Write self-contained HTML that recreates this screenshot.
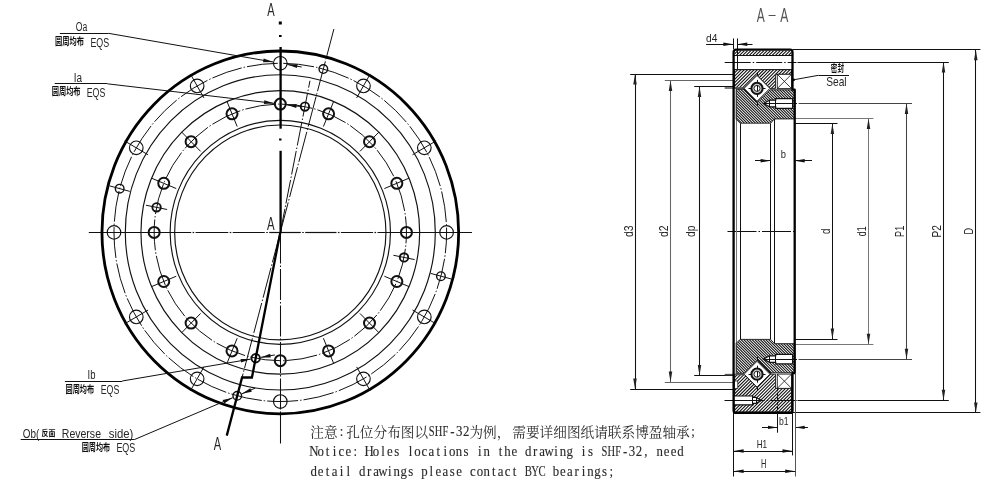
<!DOCTYPE html>
<html><head><meta charset="utf-8"><title>SHF bearing drawing</title><style>html,body{margin:0;padding:0;background:#fff}svg{display:block;will-change:transform;opacity:.999}</style></head><body>
<svg width="1005" height="485" viewBox="0 0 1005 485">
<rect width="1005" height="485" fill="#fff"/>
<g id="front">
<line x1="88.80" y1="232.50" x2="191.20" y2="232.50" stroke="#111" stroke-width="1.2"/>
<line x1="192.60" y1="232.50" x2="194.20" y2="232.50" stroke="#111" stroke-width="1.2"/>
<line x1="195.60" y1="232.50" x2="228.30" y2="232.50" stroke="#111" stroke-width="1.2"/>
<line x1="229.70" y1="232.50" x2="231.30" y2="232.50" stroke="#111" stroke-width="1.2"/>
<line x1="232.70" y1="232.50" x2="264.80" y2="232.50" stroke="#111" stroke-width="1.2"/>
<line x1="266.20" y1="232.50" x2="267.80" y2="232.50" stroke="#111" stroke-width="1.2"/>
<line x1="269.20" y1="232.50" x2="300.80" y2="232.50" stroke="#111" stroke-width="1.2"/>
<line x1="302.20" y1="232.50" x2="303.80" y2="232.50" stroke="#111" stroke-width="1.2"/>
<line x1="305.20" y1="232.50" x2="336.50" y2="232.50" stroke="#111" stroke-width="1.2"/>
<line x1="337.90" y1="232.50" x2="339.50" y2="232.50" stroke="#111" stroke-width="1.2"/>
<line x1="340.90" y1="232.50" x2="373.10" y2="232.50" stroke="#111" stroke-width="1.2"/>
<line x1="374.50" y1="232.50" x2="376.10" y2="232.50" stroke="#111" stroke-width="1.2"/>
<line x1="377.50" y1="232.50" x2="472.00" y2="232.50" stroke="#111" stroke-width="1.2"/>
<line x1="280.50" y1="232.40" x2="280.50" y2="443.50" stroke="#111" stroke-width="1.05" stroke-dasharray="31 2 1.5 2" stroke-dashoffset="0"/>
<ellipse cx="280.30" cy="232.40" rx="155.00" ry="157.63" fill="none" stroke="#111" stroke-width="1.15"/>
<ellipse cx="280.30" cy="232.40" rx="139.35" ry="141.72" fill="none" stroke="#111" stroke-width="1.15"/>
<ellipse cx="280.30" cy="232.40" rx="110.15" ry="112.02" fill="none" stroke="#111" stroke-width="1.15"/>
<ellipse cx="280.30" cy="232.40" rx="105.65" ry="107.45" fill="none" stroke="#111" stroke-width="1.15"/>
<ellipse cx="280.30" cy="232.40" rx="166.30" ry="169.13" fill="none" stroke="#111" stroke-width="1.0" stroke-dasharray="31 2 1.5 2" stroke-dashoffset="10"/>
<ellipse cx="280.30" cy="232.40" rx="126.15" ry="128.29" fill="none" stroke="#111" stroke-width="1.0" stroke-dasharray="31 2 1.5 2" stroke-dashoffset="20"/>
<ellipse cx="280.30" cy="232.40" rx="178.35" ry="181.38" fill="none" stroke="#000" stroke-width="2.8"/>
<line x1="280.30" y1="232.40" x2="333.88" y2="29.05" stroke="#111" stroke-width="1.0" stroke-dasharray="31 2 1.5 2"/>
<line x1="280.30" y1="232.40" x2="309.95" y2="80.79" stroke="#111" stroke-width="1.0" stroke-dasharray="24 2 1.5 2"/>
<line x1="280.30" y1="232.40" x2="241.99" y2="377.79" stroke="#111" stroke-width="1.0" stroke-dasharray="31 2 1.5 2"/>
<ellipse cx="280.30" cy="63.27" rx="6.80" ry="6.80" fill="none" stroke="#111" stroke-width="1.15"/>
<line x1="356.65" y1="97.91" x2="370.25" y2="73.95" stroke="#111" stroke-width="1.0"/>
<ellipse cx="363.45" cy="85.93" rx="6.80" ry="6.80" fill="none" stroke="#111" stroke-width="1.15"/>
<line x1="412.54" y1="154.75" x2="436.10" y2="140.92" stroke="#111" stroke-width="1.0"/>
<ellipse cx="424.32" cy="147.84" rx="6.80" ry="6.80" fill="none" stroke="#111" stroke-width="1.15"/>
<ellipse cx="446.60" cy="232.40" rx="6.80" ry="6.80" fill="none" stroke="#111" stroke-width="1.15"/>
<line x1="412.54" y1="310.05" x2="436.10" y2="323.88" stroke="#111" stroke-width="1.0"/>
<ellipse cx="424.32" cy="316.96" rx="6.80" ry="6.80" fill="none" stroke="#111" stroke-width="1.15"/>
<line x1="356.65" y1="366.89" x2="370.25" y2="390.85" stroke="#111" stroke-width="1.0"/>
<ellipse cx="363.45" cy="378.87" rx="6.80" ry="6.80" fill="none" stroke="#111" stroke-width="1.15"/>
<ellipse cx="280.30" cy="401.53" rx="6.80" ry="6.80" fill="none" stroke="#111" stroke-width="1.15"/>
<line x1="203.95" y1="366.89" x2="190.35" y2="390.85" stroke="#111" stroke-width="1.0"/>
<ellipse cx="197.15" cy="378.87" rx="6.80" ry="6.80" fill="none" stroke="#111" stroke-width="1.15"/>
<line x1="148.06" y1="310.05" x2="124.50" y2="323.88" stroke="#111" stroke-width="1.0"/>
<ellipse cx="136.28" cy="316.96" rx="6.80" ry="6.80" fill="none" stroke="#111" stroke-width="1.15"/>
<ellipse cx="114.00" cy="232.40" rx="6.80" ry="6.80" fill="none" stroke="#111" stroke-width="1.15"/>
<line x1="148.06" y1="154.75" x2="124.50" y2="140.92" stroke="#111" stroke-width="1.0"/>
<ellipse cx="136.28" cy="147.84" rx="6.80" ry="6.80" fill="none" stroke="#111" stroke-width="1.15"/>
<line x1="203.95" y1="97.91" x2="190.35" y2="73.95" stroke="#111" stroke-width="1.0"/>
<ellipse cx="197.15" cy="85.93" rx="6.80" ry="6.80" fill="none" stroke="#111" stroke-width="1.15"/>
<ellipse cx="280.30" cy="104.11" rx="5.50" ry="5.50" fill="none" stroke="#111" stroke-width="2.0"/>
<line x1="323.41" y1="126.56" x2="333.74" y2="101.19" stroke="#111" stroke-width="1.0"/>
<ellipse cx="328.58" cy="113.87" rx="5.50" ry="5.50" fill="none" stroke="#111" stroke-width="2.0"/>
<line x1="359.96" y1="151.39" x2="379.05" y2="131.97" stroke="#111" stroke-width="1.0"/>
<ellipse cx="369.50" cy="141.68" rx="5.50" ry="5.50" fill="none" stroke="#111" stroke-width="2.0"/>
<line x1="384.38" y1="188.56" x2="409.32" y2="178.05" stroke="#111" stroke-width="1.0"/>
<ellipse cx="396.85" cy="183.30" rx="5.50" ry="5.50" fill="none" stroke="#111" stroke-width="2.0"/>
<ellipse cx="406.45" cy="232.40" rx="5.50" ry="5.50" fill="none" stroke="#111" stroke-width="2.0"/>
<line x1="384.38" y1="276.24" x2="409.32" y2="286.75" stroke="#111" stroke-width="1.0"/>
<ellipse cx="396.85" cy="281.50" rx="5.50" ry="5.50" fill="none" stroke="#111" stroke-width="2.0"/>
<line x1="359.96" y1="313.41" x2="379.05" y2="332.83" stroke="#111" stroke-width="1.0"/>
<ellipse cx="369.50" cy="323.12" rx="5.50" ry="5.50" fill="none" stroke="#111" stroke-width="2.0"/>
<line x1="323.41" y1="338.24" x2="333.74" y2="363.61" stroke="#111" stroke-width="1.0"/>
<ellipse cx="328.58" cy="350.93" rx="5.50" ry="5.50" fill="none" stroke="#111" stroke-width="2.0"/>
<ellipse cx="280.30" cy="360.69" rx="5.50" ry="5.50" fill="none" stroke="#111" stroke-width="2.0"/>
<line x1="237.19" y1="338.24" x2="226.86" y2="363.61" stroke="#111" stroke-width="1.0"/>
<ellipse cx="232.02" cy="350.93" rx="5.50" ry="5.50" fill="none" stroke="#111" stroke-width="2.0"/>
<line x1="200.64" y1="313.41" x2="181.55" y2="332.83" stroke="#111" stroke-width="1.0"/>
<ellipse cx="191.10" cy="323.12" rx="5.50" ry="5.50" fill="none" stroke="#111" stroke-width="2.0"/>
<line x1="176.22" y1="276.24" x2="151.28" y2="286.75" stroke="#111" stroke-width="1.0"/>
<ellipse cx="163.75" cy="281.50" rx="5.50" ry="5.50" fill="none" stroke="#111" stroke-width="2.0"/>
<ellipse cx="154.15" cy="232.40" rx="5.50" ry="5.50" fill="none" stroke="#111" stroke-width="2.0"/>
<line x1="176.22" y1="188.56" x2="151.28" y2="178.05" stroke="#111" stroke-width="1.0"/>
<ellipse cx="163.75" cy="183.30" rx="5.50" ry="5.50" fill="none" stroke="#111" stroke-width="2.0"/>
<line x1="200.64" y1="151.39" x2="181.55" y2="131.97" stroke="#111" stroke-width="1.0"/>
<ellipse cx="191.10" cy="141.68" rx="5.50" ry="5.50" fill="none" stroke="#111" stroke-width="2.0"/>
<line x1="237.19" y1="126.56" x2="226.86" y2="101.19" stroke="#111" stroke-width="1.0"/>
<ellipse cx="232.02" cy="113.87" rx="5.50" ry="5.50" fill="none" stroke="#111" stroke-width="2.0"/>
<ellipse cx="323.34" cy="69.04" rx="4.30" ry="4.30" fill="none" stroke="#111" stroke-width="1.4"/>
<ellipse cx="304.91" cy="106.57" rx="4.20" ry="4.20" fill="none" stroke="#111" stroke-width="1.9"/>
<line x1="430.79" y1="273.41" x2="451.08" y2="278.94" stroke="#111" stroke-width="1.0"/>
<ellipse cx="440.93" cy="276.17" rx="4.30" ry="4.30" fill="none" stroke="#111" stroke-width="1.4"/>
<line x1="393.43" y1="255.29" x2="414.62" y2="259.57" stroke="#111" stroke-width="1.0"/>
<ellipse cx="404.03" cy="257.43" rx="4.20" ry="4.20" fill="none" stroke="#111" stroke-width="1.9"/>
<ellipse cx="237.26" cy="395.76" rx="4.30" ry="4.30" fill="none" stroke="#111" stroke-width="1.4"/>
<ellipse cx="255.69" cy="358.23" rx="4.20" ry="4.20" fill="none" stroke="#111" stroke-width="1.9"/>
<line x1="129.81" y1="191.39" x2="109.52" y2="185.86" stroke="#111" stroke-width="1.0"/>
<ellipse cx="119.67" cy="188.63" rx="4.30" ry="4.30" fill="none" stroke="#111" stroke-width="1.4"/>
<line x1="167.17" y1="209.51" x2="145.98" y2="205.23" stroke="#111" stroke-width="1.0"/>
<ellipse cx="156.57" cy="207.37" rx="4.20" ry="4.20" fill="none" stroke="#111" stroke-width="1.9"/>
<rect x="278.80" y="21.5" width="3" height="3" fill="#000"/>
<rect x="279.00" y="35" width="2.6" height="2" fill="#000"/>
<line x1="280.60" y1="47.00" x2="280.60" y2="128.70" stroke="#000" stroke-width="2.3"/>
<rect x="279.10" y="138.5" width="2.4" height="2" fill="#000"/>
<line x1="280.60" y1="150.80" x2="280.60" y2="232.40" stroke="#000" stroke-width="2.3"/>
<path d="M280.30 232.40 L251.92 377.50 L242.07 377.50 L226.76 435.60" fill="none" stroke="#000" stroke-width="2.3" stroke-linejoin="miter"/>
<line x1="59.90" y1="33.50" x2="108.40" y2="33.50" stroke="#111" stroke-width="1.05"/>
<line x1="108.40" y1="33.30" x2="273.21" y2="62.04" stroke="#111" stroke-width="1.0"/>
<path d="M273.21 62.04 L263.03 62.19 L263.68 58.45 Z" fill="#111"/>
<path d="M287.39 64.51 L297.57 64.36 L296.92 68.10 Z" fill="#111"/>
<line x1="287.39" y1="64.51" x2="301.68" y2="67.00" stroke="#111" stroke-width="1.0"/>
<line x1="54.70" y1="83.50" x2="107.30" y2="83.50" stroke="#111" stroke-width="1.05"/>
<line x1="107.30" y1="83.80" x2="274.04" y2="103.37" stroke="#111" stroke-width="1.0"/>
<path d="M274.04 103.37 L263.89 104.09 L264.33 100.32 Z" fill="#111"/>
<path d="M286.56 104.84 L296.71 104.12 L296.27 107.89 Z" fill="#111"/>
<line x1="286.56" y1="104.84" x2="302.45" y2="106.71" stroke="#111" stroke-width="1.0"/>
<line x1="64.90" y1="381.50" x2="122.20" y2="381.50" stroke="#111" stroke-width="1.05"/>
<line x1="122.20" y1="381.00" x2="250.76" y2="359.07" stroke="#111" stroke-width="1.0"/>
<path d="M250.76 359.07 L241.22 362.62 L240.58 358.88 Z" fill="#111"/>
<path d="M260.62 357.39 L270.16 353.83 L270.80 357.58 Z" fill="#111"/>
<line x1="260.62" y1="357.39" x2="274.91" y2="354.95" stroke="#111" stroke-width="1.0"/>
<line x1="20.70" y1="439.50" x2="134.60" y2="439.50" stroke="#111" stroke-width="1.05"/>
<line x1="134.60" y1="439.50" x2="232.66" y2="397.72" stroke="#111" stroke-width="1.0"/>
<path d="M232.66 397.72 L224.20 403.39 L222.71 399.90 Z" fill="#111"/>
<path d="M241.86 393.80 L250.31 388.14 L251.80 391.63 Z" fill="#111"/>
<line x1="241.86" y1="393.80" x2="255.20" y2="388.12" stroke="#111" stroke-width="1.0"/>
<text x="267.20" y="16.30" font-family="Liberation Sans, sans-serif" font-size="18.5" font-weight="normal" fill="#262626" text-anchor="start" textLength="7.40" lengthAdjust="spacingAndGlyphs" xml:space="preserve">A</text>
<text x="267.00" y="230.20" font-family="Liberation Sans, sans-serif" font-size="18" font-weight="normal" fill="#262626" text-anchor="start" textLength="7.60" lengthAdjust="spacingAndGlyphs" xml:space="preserve">A</text>
<text x="213.80" y="449.60" font-family="Liberation Sans, sans-serif" font-size="18.5" font-weight="normal" fill="#262626" text-anchor="start" textLength="7.40" lengthAdjust="spacingAndGlyphs" xml:space="preserve">A</text>
<text x="75.80" y="31.30" font-family="Liberation Sans, sans-serif" font-size="12" font-weight="normal" fill="#262626" text-anchor="start" textLength="11.50" lengthAdjust="spacingAndGlyphs" xml:space="preserve">Oa</text>
<text x="54.90" y="45.10" font-family="'Liberation Sans', 'Noto Sans CJK SC', sans-serif" font-size="10.5" font-weight="bold" fill="#111" text-anchor="start" textLength="29.00" lengthAdjust="spacingAndGlyphs">圆周均布</text>
<text x="90.40" y="46.70" font-family="Liberation Sans, sans-serif" font-size="13.2" font-weight="normal" fill="#262626" text-anchor="start" textLength="18.80" lengthAdjust="spacingAndGlyphs" xml:space="preserve">EQS</text>
<text x="73.70" y="81.80" font-family="Liberation Sans, sans-serif" font-size="12" font-weight="normal" fill="#262626" text-anchor="start" textLength="8.30" lengthAdjust="spacingAndGlyphs" xml:space="preserve">Ia</text>
<text x="51.70" y="95.40" font-family="'Liberation Sans', 'Noto Sans CJK SC', sans-serif" font-size="10.5" font-weight="bold" fill="#111" text-anchor="start" textLength="28.90" lengthAdjust="spacingAndGlyphs">圆周均布</text>
<text x="86.70" y="97.10" font-family="Liberation Sans, sans-serif" font-size="13.2" font-weight="normal" fill="#262626" text-anchor="start" textLength="18.60" lengthAdjust="spacingAndGlyphs" xml:space="preserve">EQS</text>
<text x="87.60" y="378.60" font-family="Liberation Sans, sans-serif" font-size="12.5" font-weight="normal" fill="#262626" text-anchor="start" textLength="7.90" lengthAdjust="spacingAndGlyphs" xml:space="preserve">Ib</text>
<text x="65.50" y="392.60" font-family="'Liberation Sans', 'Noto Sans CJK SC', sans-serif" font-size="10.5" font-weight="bold" fill="#111" text-anchor="start" textLength="28.70" lengthAdjust="spacingAndGlyphs">圆周均布</text>
<text x="100.70" y="394.00" font-family="Liberation Sans, sans-serif" font-size="13.2" font-weight="normal" fill="#262626" text-anchor="start" textLength="18.60" lengthAdjust="spacingAndGlyphs" xml:space="preserve">EQS</text>
<text x="22.80" y="437.60" font-family="Liberation Sans, sans-serif" font-size="12.2" font-weight="normal" fill="#262626" text-anchor="start" textLength="16.50" lengthAdjust="spacingAndGlyphs" xml:space="preserve">Ob(</text>
<text x="41.60" y="436.30" font-family="'Liberation Sans', 'Noto Sans CJK SC', sans-serif" font-size="7.8" font-weight="bold" fill="#111" text-anchor="start" textLength="13.90" lengthAdjust="spacingAndGlyphs">反面</text>
<text x="61.80" y="437.60" font-family="Liberation Sans, sans-serif" font-size="12.2" font-weight="normal" fill="#262626" text-anchor="start" textLength="39.20" lengthAdjust="spacingAndGlyphs" xml:space="preserve">Reverse</text>
<text x="108.80" y="437.60" font-family="Liberation Sans, sans-serif" font-size="12.2" font-weight="normal" fill="#262626" text-anchor="start" textLength="24.60" lengthAdjust="spacingAndGlyphs" xml:space="preserve">side)</text>
<text x="81.70" y="450.90" font-family="'Liberation Sans', 'Noto Sans CJK SC', sans-serif" font-size="10.5" font-weight="bold" fill="#111" text-anchor="start" textLength="28.40" lengthAdjust="spacingAndGlyphs">圆周均布</text>
<text x="116.40" y="452.40" font-family="Liberation Sans, sans-serif" font-size="13.2" font-weight="normal" fill="#262626" text-anchor="start" textLength="18.90" lengthAdjust="spacingAndGlyphs" xml:space="preserve">EQS</text>
</g>
<g id="section">
<line x1="630.20" y1="74.50" x2="733.60" y2="74.50" stroke="#111" stroke-width="1.05"/>
<line x1="630.20" y1="389.50" x2="733.60" y2="389.50" stroke="#111" stroke-width="1.05"/>
<line x1="635.50" y1="74.00" x2="635.50" y2="389.00" stroke="#111" stroke-width="1.05"/>
<path d="M635.00 74.00 L636.75 84.50 L633.25 84.50 Z" fill="#222"/>
<path d="M635.00 389.00 L633.25 378.50 L636.75 378.50 Z" fill="#222"/>
<line x1="664.80" y1="80.50" x2="733.60" y2="80.50" stroke="#666" stroke-width="1.05"/>
<line x1="664.80" y1="382.50" x2="733.60" y2="382.50" stroke="#666" stroke-width="1.05"/>
<line x1="670.50" y1="80.60" x2="670.50" y2="382.10" stroke="#666" stroke-width="1.05"/>
<path d="M670.50 80.60 L672.25 91.10 L668.75 91.10 Z" fill="#222"/>
<path d="M670.50 382.10 L668.75 371.60 L672.25 371.60 Z" fill="#222"/>
<line x1="694.20" y1="86.50" x2="733.60" y2="86.50" stroke="#111" stroke-width="1.05"/>
<line x1="694.20" y1="375.50" x2="733.60" y2="375.50" stroke="#111" stroke-width="1.05"/>
<line x1="699.50" y1="86.40" x2="699.50" y2="375.60" stroke="#111" stroke-width="1.05"/>
<path d="M699.50 86.40 L701.25 96.90 L697.75 96.90 Z" fill="#222"/>
<path d="M699.50 375.60 L697.75 365.10 L701.25 365.10 Z" fill="#222"/>
<line x1="795.00" y1="123.50" x2="837.50" y2="123.50" stroke="#111" stroke-width="1.05"/>
<line x1="795.00" y1="339.50" x2="837.50" y2="339.50" stroke="#111" stroke-width="1.05"/>
<line x1="832.50" y1="123.40" x2="832.50" y2="339.10" stroke="#111" stroke-width="1.05"/>
<path d="M832.40 123.40 L834.15 133.90 L830.65 133.90 Z" fill="#222"/>
<path d="M832.40 339.10 L830.65 328.60 L834.15 328.60 Z" fill="#222"/>
<line x1="795.00" y1="118.50" x2="873.40" y2="118.50" stroke="#777" stroke-width="1.05"/>
<line x1="795.00" y1="344.50" x2="873.40" y2="344.50" stroke="#777" stroke-width="1.05"/>
<line x1="868.50" y1="118.60" x2="868.50" y2="344.20" stroke="#777" stroke-width="1.05"/>
<path d="M868.50 118.60 L870.25 129.10 L866.75 129.10 Z" fill="#222"/>
<path d="M868.50 344.20 L866.75 333.70 L870.25 333.70 Z" fill="#222"/>
<line x1="798.60" y1="103.50" x2="912.00" y2="103.50" stroke="#444" stroke-width="1.05"/>
<line x1="798.60" y1="359.50" x2="912.00" y2="359.50" stroke="#444" stroke-width="1.05"/>
<line x1="906.50" y1="103.50" x2="906.50" y2="359.30" stroke="#444" stroke-width="1.05"/>
<path d="M906.50 103.50 L908.25 114.00 L904.75 114.00 Z" fill="#222"/>
<path d="M906.50 359.30 L904.75 348.80 L908.25 348.80 Z" fill="#222"/>
<line x1="797.50" y1="62.50" x2="948.80" y2="62.50" stroke="#111" stroke-width="1.05"/>
<line x1="797.50" y1="400.50" x2="948.80" y2="400.50" stroke="#111" stroke-width="1.05"/>
<line x1="943.50" y1="62.10" x2="943.50" y2="400.30" stroke="#111" stroke-width="1.05"/>
<path d="M943.50 62.10 L945.25 72.60 L941.75 72.60 Z" fill="#222"/>
<path d="M943.50 400.30 L941.75 389.80 L945.25 389.80 Z" fill="#222"/>
<line x1="792.50" y1="49.50" x2="980.40" y2="49.50" stroke="#111" stroke-width="1.05"/>
<line x1="792.50" y1="412.50" x2="980.40" y2="412.50" stroke="#111" stroke-width="1.05"/>
<line x1="975.50" y1="49.70" x2="975.50" y2="412.90" stroke="#111" stroke-width="1.05"/>
<path d="M975.80 49.70 L977.55 60.20 L974.05 60.20 Z" fill="#222"/>
<path d="M975.80 412.90 L974.05 402.40 L977.55 402.40 Z" fill="#222"/>
<text x="632.90" y="237.10" font-family="Liberation Sans, sans-serif" font-size="12" font-weight="normal" fill="#262626" text-anchor="start" textLength="11.60" lengthAdjust="spacingAndGlyphs" transform="rotate(-90 632.90 237.10)" xml:space="preserve">d3</text>
<text x="667.80" y="237.10" font-family="Liberation Sans, sans-serif" font-size="12" font-weight="normal" fill="#262626" text-anchor="start" textLength="11.60" lengthAdjust="spacingAndGlyphs" transform="rotate(-90 667.80 237.10)" xml:space="preserve">d2</text>
<text x="695.20" y="236.90" font-family="Liberation Sans, sans-serif" font-size="12" font-weight="normal" fill="#262626" text-anchor="start" textLength="11.20" lengthAdjust="spacingAndGlyphs" transform="rotate(-90 695.20 236.90)" xml:space="preserve">dp</text>
<text x="830.40" y="234.00" font-family="Liberation Sans, sans-serif" font-size="12" font-weight="normal" fill="#262626" text-anchor="start" textLength="5.40" lengthAdjust="spacingAndGlyphs" transform="rotate(-90 830.40 234.00)" xml:space="preserve">d</text>
<text x="866.30" y="236.20" font-family="Liberation Sans, sans-serif" font-size="12" font-weight="normal" fill="#262626" text-anchor="start" textLength="9.80" lengthAdjust="spacingAndGlyphs" transform="rotate(-90 866.30 236.20)" xml:space="preserve">d1</text>
<text x="903.70" y="236.90" font-family="Liberation Sans, sans-serif" font-size="12" font-weight="normal" fill="#262626" text-anchor="start" textLength="11.20" lengthAdjust="spacingAndGlyphs" transform="rotate(-90 903.70 236.90)" xml:space="preserve">P1</text>
<text x="941.00" y="237.50" font-family="Liberation Sans, sans-serif" font-size="12" font-weight="normal" fill="#262626" text-anchor="start" textLength="12.40" lengthAdjust="spacingAndGlyphs" transform="rotate(-90 941.00 237.50)" xml:space="preserve">P2</text>
<text x="973.00" y="234.60" font-family="Liberation Sans, sans-serif" font-size="12" font-weight="normal" fill="#262626" text-anchor="start" textLength="6.60" lengthAdjust="spacingAndGlyphs" transform="rotate(-90 973.00 234.60)" xml:space="preserve">D</text>
<line x1="727.50" y1="231.50" x2="796.50" y2="231.50" stroke="#111" stroke-width="1.05" stroke-dasharray="29 2 1.5 2"/>
<line x1="724.70" y1="62.50" x2="796.50" y2="62.50" stroke="#111" stroke-width="1.05" stroke-dasharray="26 2 1.5 2" stroke-dashoffset="0"/>
<line x1="724.70" y1="400.50" x2="796.50" y2="400.50" stroke="#111" stroke-width="1.05" stroke-dasharray="40 2 1.5 2"/>
<line x1="736.50" y1="89.30" x2="736.50" y2="373.30" stroke="#777" stroke-width="1.05"/>
<line x1="740.50" y1="123.20" x2="740.50" y2="339.40" stroke="#111" stroke-width="1.05"/>
<line x1="770.50" y1="123.20" x2="770.50" y2="339.40" stroke="#111" stroke-width="1.05"/>
<line x1="774.50" y1="118.90" x2="774.50" y2="343.70" stroke="#111" stroke-width="1.05"/>
<clipPath id="hc1"><path d="M734.60 50.60 L791.50 50.60 L791.50 55.20 L734.60 55.20 Z"/></clipPath>
<path d="M734.60 50.60 L791.50 50.60 L791.50 55.20 L734.60 55.20 Z" fill="#fff"/>
<path d="M726.74 55.20 L731.34 50.60 M730.00 55.20 L734.60 50.60 M733.26 55.20 L737.86 50.60 M736.52 55.20 L741.12 50.60 M739.78 55.20 L744.38 50.60 M743.04 55.20 L747.64 50.60 M746.30 55.20 L750.90 50.60 M749.56 55.20 L754.16 50.60 M752.82 55.20 L757.42 50.60 M756.08 55.20 L760.68 50.60 M759.34 55.20 L763.94 50.60 M762.60 55.20 L767.20 50.60 M765.86 55.20 L770.46 50.60 M769.12 55.20 L773.72 50.60 M772.38 55.20 L776.98 50.60 M775.64 55.20 L780.24 50.60 M778.90 55.20 L783.50 50.60 M782.16 55.20 L786.76 50.60 M785.42 55.20 L790.02 50.60 M788.68 55.20 L793.28 50.60 M791.94 55.20 L796.54 50.60 M795.20 55.20 L799.80 50.60 M798.46 55.20 L803.06 50.60" clip-path="url(#hc1)" stroke="#111" stroke-width="1.1" fill="none"/>
<line x1="733.60" y1="55.50" x2="792.50" y2="55.50" stroke="#111" stroke-width="1.05"/>
<line x1="733.60" y1="69.50" x2="792.50" y2="69.50" stroke="#111" stroke-width="1.05"/>
<line x1="737.50" y1="49.70" x2="737.50" y2="69.70" stroke="#111" stroke-width="1.05"/>
<clipPath id="hc2"><path d="M734.60 69.70 L791.50 69.70 L791.50 74.30 L775.60 74.30 L775.60 88.40 L770.00 88.40 L757.00 75.40 L744.00 88.40 L734.60 88.40 Z"/></clipPath>
<path d="M734.60 69.70 L791.50 69.70 L791.50 74.30 L775.60 74.30 L775.60 88.40 L770.00 88.40 L757.00 75.40 L744.00 88.40 L734.60 88.40 Z" fill="#fff"/>
<path d="M712.64 88.40 L731.34 69.70 M715.90 88.40 L734.60 69.70 M719.16 88.40 L737.86 69.70 M722.42 88.40 L741.12 69.70 M725.68 88.40 L744.38 69.70 M728.94 88.40 L747.64 69.70 M732.20 88.40 L750.90 69.70 M735.46 88.40 L754.16 69.70 M738.72 88.40 L757.42 69.70 M741.98 88.40 L760.68 69.70 M745.24 88.40 L763.94 69.70 M748.50 88.40 L767.20 69.70 M751.76 88.40 L770.46 69.70 M755.02 88.40 L773.72 69.70 M758.28 88.40 L776.98 69.70 M761.54 88.40 L780.24 69.70 M764.80 88.40 L783.50 69.70 M768.06 88.40 L786.76 69.70 M771.32 88.40 L790.02 69.70 M774.58 88.40 L793.28 69.70 M777.84 88.40 L796.54 69.70 M781.10 88.40 L799.80 69.70 M784.36 88.40 L803.06 69.70 M787.62 88.40 L806.32 69.70 M790.88 88.40 L809.58 69.70 M794.14 88.40 L812.84 69.70 M797.40 88.40 L816.10 69.70 M800.66 88.40 L819.36 69.70 M803.92 88.40 L822.62 69.70 M807.18 88.40 L825.88 69.70 M810.44 88.40 L829.14 69.70" clip-path="url(#hc2)" stroke="#111" stroke-width="1.1" fill="none"/>
<path d="M734.60 69.70 L791.50 69.70 L791.50 74.30 L775.60 74.30 L775.60 88.40 L770.00 88.40 L757.00 75.40 L744.00 88.40 L734.60 88.40 Z" fill="none" stroke="#111" stroke-width="0.9"/>
<clipPath id="hc3"><path d="M736.20 89.30 L744.00 89.30 L757.00 102.30 L770.00 89.80 L794.70 89.80 L794.70 118.90 L774.40 118.90 L770.60 123.20 L740.10 123.20 L736.20 119.30 Z"/></clipPath>
<path d="M736.20 89.30 L744.00 89.30 L757.00 102.30 L770.00 89.80 L794.70 89.80 L794.70 118.90 L774.40 118.90 L770.60 123.20 L740.10 123.20 L736.20 119.30 Z" fill="#fff"/>
<path d="M699.55 89.30 L733.45 123.20 M702.30 89.30 L736.20 123.20 M705.05 89.30 L738.95 123.20 M707.80 89.30 L741.70 123.20 M710.55 89.30 L744.45 123.20 M713.30 89.30 L747.20 123.20 M716.05 89.30 L749.95 123.20 M718.80 89.30 L752.70 123.20 M721.55 89.30 L755.45 123.20 M724.30 89.30 L758.20 123.20 M727.05 89.30 L760.95 123.20 M729.80 89.30 L763.70 123.20 M732.55 89.30 L766.45 123.20 M735.30 89.30 L769.20 123.20 M738.05 89.30 L771.95 123.20 M740.80 89.30 L774.70 123.20 M743.55 89.30 L777.45 123.20 M746.30 89.30 L780.20 123.20 M749.05 89.30 L782.95 123.20 M751.80 89.30 L785.70 123.20 M754.55 89.30 L788.45 123.20 M757.30 89.30 L791.20 123.20 M760.05 89.30 L793.95 123.20 M762.80 89.30 L796.70 123.20 M765.55 89.30 L799.45 123.20 M768.30 89.30 L802.20 123.20 M771.05 89.30 L804.95 123.20 M773.80 89.30 L807.70 123.20 M776.55 89.30 L810.45 123.20 M779.30 89.30 L813.20 123.20 M782.05 89.30 L815.95 123.20 M784.80 89.30 L818.70 123.20 M787.55 89.30 L821.45 123.20 M790.30 89.30 L824.20 123.20 M793.05 89.30 L826.95 123.20 M795.80 89.30 L829.70 123.20 M798.55 89.30 L832.45 123.20 M801.30 89.30 L835.20 123.20 M804.05 89.30 L837.95 123.20 M806.80 89.30 L840.70 123.20 M809.55 89.30 L843.45 123.20 M812.30 89.30 L846.20 123.20 M815.05 89.30 L848.95 123.20 M817.80 89.30 L851.70 123.20 M820.55 89.30 L854.45 123.20 M823.30 89.30 L857.20 123.20 M826.05 89.30 L859.95 123.20 M828.80 89.30 L862.70 123.20" clip-path="url(#hc3)" stroke="#111" stroke-width="1.05" fill="none"/>
<path d="M736.20 89.30 L744.00 89.30 L757.00 102.30 L770.00 89.80 L794.70 89.80 L794.70 118.90 L774.40 118.90 L770.60 123.20 L740.10 123.20 L736.20 119.30 Z" fill="none" stroke="#111" stroke-width="0.9"/>
<line x1="757.50" y1="102.30" x2="757.50" y2="105.80" stroke="#111" stroke-width="1.05"/>
<line x1="757.50" y1="75.40" x2="757.50" y2="72.40" stroke="#111" stroke-width="1.05"/>
<path d="M763.50 103.50 L769.60 100.20 L775.70 100.20 L775.70 98.70 L792.60 98.70 L792.60 108.30 L775.70 108.30 L775.70 106.80 L769.60 106.80 Z" fill="#fff" stroke="#111" stroke-width="1.2" stroke-linejoin="miter"/>
<line x1="769.50" y1="100.20" x2="769.50" y2="106.80" stroke="#111" stroke-width="1.05"/>
<line x1="775.50" y1="98.70" x2="775.50" y2="108.30" stroke="#111" stroke-width="1.05"/>
<line x1="764.00" y1="103.50" x2="797.00" y2="103.50" stroke="#111" stroke-width="1.05"/>
<rect x="777.3" y="74.30" width="14.2" height="14.2" fill="#fff" stroke="#111" stroke-width="0.8"/>
<line x1="777.30" y1="74.30" x2="791.50" y2="88.50" stroke="#111" stroke-width="0.8"/>
<line x1="777.30" y1="88.50" x2="791.50" y2="74.30" stroke="#111" stroke-width="0.8"/>
<path d="M744.10 88.40 L757.00 75.50 L769.90 88.40 L757.00 101.30 Z" fill="#fff" stroke="#111" stroke-width="0.9" stroke-linejoin="miter"/>
<line x1="743.50" y1="88.60" x2="756.60" y2="101.90" stroke="#111" stroke-width="1.2"/>
<line x1="748.50" y1="88.50" x2="765.50" y2="88.50" stroke="#111" stroke-width="1.05"/>
<line x1="757.50" y1="79.90" x2="757.50" y2="96.90" stroke="#111" stroke-width="1.05"/>
<ellipse cx="757.00" cy="88.40" rx="5.60" ry="5.60" fill="#ccc" stroke="#111" stroke-width="2.0"/>
<ellipse cx="757.00" cy="88.40" rx="3.00" ry="3.00" fill="#fff" stroke="#111" stroke-width="0.9"/>
<line x1="757.50" y1="85.40" x2="757.50" y2="91.40" stroke="#111" stroke-width="1.05"/>
<clipPath id="hc4"><path d="M734.60 374.20 L744.00 374.20 L757.00 387.20 L770.00 374.20 L775.60 374.20 L775.60 388.30 L791.50 388.30 L791.50 411.90 L734.60 411.90 Z"/></clipPath>
<path d="M734.60 374.20 L744.00 374.20 L757.00 387.20 L770.00 374.20 L775.60 374.20 L775.60 388.30 L791.50 388.30 L791.50 411.90 L734.60 411.90 Z" fill="#fff"/>
<path d="M693.64 411.90 L731.34 374.20 M696.90 411.90 L734.60 374.20 M700.16 411.90 L737.86 374.20 M703.42 411.90 L741.12 374.20 M706.68 411.90 L744.38 374.20 M709.94 411.90 L747.64 374.20 M713.20 411.90 L750.90 374.20 M716.46 411.90 L754.16 374.20 M719.72 411.90 L757.42 374.20 M722.98 411.90 L760.68 374.20 M726.24 411.90 L763.94 374.20 M729.50 411.90 L767.20 374.20 M732.76 411.90 L770.46 374.20 M736.02 411.90 L773.72 374.20 M739.28 411.90 L776.98 374.20 M742.54 411.90 L780.24 374.20 M745.80 411.90 L783.50 374.20 M749.06 411.90 L786.76 374.20 M752.32 411.90 L790.02 374.20 M755.58 411.90 L793.28 374.20 M758.84 411.90 L796.54 374.20 M762.10 411.90 L799.80 374.20 M765.36 411.90 L803.06 374.20 M768.62 411.90 L806.32 374.20 M771.88 411.90 L809.58 374.20 M775.14 411.90 L812.84 374.20 M778.40 411.90 L816.10 374.20 M781.66 411.90 L819.36 374.20 M784.92 411.90 L822.62 374.20 M788.18 411.90 L825.88 374.20 M791.44 411.90 L829.14 374.20 M794.70 411.90 L832.40 374.20 M797.96 411.90 L835.66 374.20 M801.22 411.90 L838.92 374.20 M804.48 411.90 L842.18 374.20 M807.74 411.90 L845.44 374.20 M811.00 411.90 L848.70 374.20 M814.26 411.90 L851.96 374.20 M817.52 411.90 L855.22 374.20 M820.78 411.90 L858.48 374.20 M824.04 411.90 L861.74 374.20 M827.30 411.90 L865.00 374.20 M830.56 411.90 L868.26 374.20" clip-path="url(#hc4)" stroke="#111" stroke-width="1.1" fill="none"/>
<path d="M734.60 374.20 L744.00 374.20 L757.00 387.20 L770.00 374.20 L775.60 374.20 L775.60 388.30 L791.50 388.30 L791.50 411.90 L734.60 411.90 Z" fill="none" stroke="#111" stroke-width="0.9"/>
<line x1="777.50" y1="388.30" x2="777.50" y2="412.90" stroke="#111" stroke-width="1.05" stroke-dasharray="3 1.5"/>
<rect x="734.60" y="381" width="3.2" height="7.6" fill="#fff" stroke="#111" stroke-width="0.7"/>
<path d="M733.60 396.00 L752.80 396.00 L752.80 397.40 L756.00 397.40 L761.50 400.40 L756.00 403.40 L752.80 403.40 L752.80 404.80 L733.60 404.80 Z" fill="#fff" stroke="#111" stroke-width="1.2" stroke-linejoin="miter"/>
<line x1="752.50" y1="396.00" x2="752.50" y2="404.80" stroke="#111" stroke-width="1.05"/>
<line x1="756.50" y1="397.40" x2="756.50" y2="403.40" stroke="#111" stroke-width="1.05"/>
<line x1="724.70" y1="400.50" x2="796.50" y2="400.50" stroke="#111" stroke-width="1.05" stroke-dasharray="40 2 1.5 2"/>
<clipPath id="hc5"><path d="M736.20 373.30 L744.00 373.30 L757.00 360.30 L770.00 372.80 L794.70 372.80 L794.70 343.70 L774.40 343.70 L770.60 339.40 L740.10 339.40 L736.20 343.30 Z"/></clipPath>
<path d="M736.20 373.30 L744.00 373.30 L757.00 360.30 L770.00 372.80 L794.70 372.80 L794.70 343.70 L774.40 343.70 L770.60 339.40 L740.10 339.40 L736.20 343.30 Z" fill="#fff"/>
<path d="M699.55 339.40 L733.45 373.30 M702.30 339.40 L736.20 373.30 M705.05 339.40 L738.95 373.30 M707.80 339.40 L741.70 373.30 M710.55 339.40 L744.45 373.30 M713.30 339.40 L747.20 373.30 M716.05 339.40 L749.95 373.30 M718.80 339.40 L752.70 373.30 M721.55 339.40 L755.45 373.30 M724.30 339.40 L758.20 373.30 M727.05 339.40 L760.95 373.30 M729.80 339.40 L763.70 373.30 M732.55 339.40 L766.45 373.30 M735.30 339.40 L769.20 373.30 M738.05 339.40 L771.95 373.30 M740.80 339.40 L774.70 373.30 M743.55 339.40 L777.45 373.30 M746.30 339.40 L780.20 373.30 M749.05 339.40 L782.95 373.30 M751.80 339.40 L785.70 373.30 M754.55 339.40 L788.45 373.30 M757.30 339.40 L791.20 373.30 M760.05 339.40 L793.95 373.30 M762.80 339.40 L796.70 373.30 M765.55 339.40 L799.45 373.30 M768.30 339.40 L802.20 373.30 M771.05 339.40 L804.95 373.30 M773.80 339.40 L807.70 373.30 M776.55 339.40 L810.45 373.30 M779.30 339.40 L813.20 373.30 M782.05 339.40 L815.95 373.30 M784.80 339.40 L818.70 373.30 M787.55 339.40 L821.45 373.30 M790.30 339.40 L824.20 373.30 M793.05 339.40 L826.95 373.30 M795.80 339.40 L829.70 373.30 M798.55 339.40 L832.45 373.30 M801.30 339.40 L835.20 373.30 M804.05 339.40 L837.95 373.30 M806.80 339.40 L840.70 373.30 M809.55 339.40 L843.45 373.30 M812.30 339.40 L846.20 373.30 M815.05 339.40 L848.95 373.30 M817.80 339.40 L851.70 373.30 M820.55 339.40 L854.45 373.30 M823.30 339.40 L857.20 373.30 M826.05 339.40 L859.95 373.30 M828.80 339.40 L862.70 373.30" clip-path="url(#hc5)" stroke="#111" stroke-width="1.05" fill="none"/>
<path d="M736.20 373.30 L744.00 373.30 L757.00 360.30 L770.00 372.80 L794.70 372.80 L794.70 343.70 L774.40 343.70 L770.60 339.40 L740.10 339.40 L736.20 343.30 Z" fill="none" stroke="#111" stroke-width="0.9"/>
<line x1="757.50" y1="360.30" x2="757.50" y2="356.80" stroke="#111" stroke-width="1.05"/>
<line x1="757.50" y1="387.20" x2="757.50" y2="390.20" stroke="#111" stroke-width="1.05"/>
<path d="M763.50 359.10 L769.60 362.40 L775.70 362.40 L775.70 363.90 L792.60 363.90 L792.60 354.30 L775.70 354.30 L775.70 355.80 L769.60 355.80 Z" fill="#fff" stroke="#111" stroke-width="1.2" stroke-linejoin="miter"/>
<line x1="769.50" y1="362.40" x2="769.50" y2="355.80" stroke="#111" stroke-width="1.05"/>
<line x1="775.50" y1="363.90" x2="775.50" y2="354.30" stroke="#111" stroke-width="1.05"/>
<line x1="764.00" y1="359.50" x2="797.00" y2="359.50" stroke="#111" stroke-width="1.05"/>
<rect x="777.3" y="374.10" width="14.2" height="14.2" fill="#fff" stroke="#111" stroke-width="0.8"/>
<line x1="777.30" y1="388.30" x2="791.50" y2="374.10" stroke="#111" stroke-width="0.8"/>
<line x1="777.30" y1="374.10" x2="791.50" y2="388.30" stroke="#111" stroke-width="0.8"/>
<path d="M744.10 374.20 L757.00 361.30 L769.90 374.20 L757.00 387.10 Z" fill="#fff" stroke="#111" stroke-width="0.9" stroke-linejoin="miter"/>
<line x1="757.60" y1="360.10" x2="771.10" y2="373.60" stroke="#111" stroke-width="1.4"/>
<line x1="748.50" y1="374.50" x2="765.50" y2="374.50" stroke="#111" stroke-width="1.05"/>
<line x1="757.50" y1="365.70" x2="757.50" y2="382.70" stroke="#111" stroke-width="1.05"/>
<ellipse cx="757.00" cy="374.20" rx="5.60" ry="5.60" fill="#ccc" stroke="#111" stroke-width="2.0"/>
<ellipse cx="757.00" cy="374.20" rx="3.00" ry="3.00" fill="#fff" stroke="#111" stroke-width="0.9"/>
<line x1="757.50" y1="371.20" x2="757.50" y2="377.20" stroke="#111" stroke-width="1.05"/>
<line x1="724.70" y1="88.00" x2="744.50" y2="88.00" stroke="#555" stroke-width="1.5"/>
<line x1="724.70" y1="374.60" x2="744.50" y2="374.60" stroke="#555" stroke-width="1.5"/>
<path d="M733.6 410.4 L733.6 52.2 Q733.6 49.7 736.1 49.7 L790.0 49.7 Q792.5 49.7 792.5 52.2 L792.5 89.6 L794.7 89.6 L794.7 373.00 L792.5 373.00 L792.5 410.4 Q792.5 412.9 790.0 412.9 L736.1 412.9 Q733.6 412.9 733.6 410.4 Z" fill="none" stroke="#000" stroke-width="2.3" stroke-linejoin="round"/>
<circle cx="793.6" cy="79.8" r="1.4" fill="#000"/>
<line x1="793.60" y1="79.80" x2="818.50" y2="75.30" stroke="#111" stroke-width="1.0"/>
<line x1="818.50" y1="75.50" x2="849.00" y2="75.50" stroke="#111" stroke-width="1.05"/>
<text x="830.80" y="71.90" font-family="'Liberation Sans', 'Noto Sans CJK SC', sans-serif" font-size="10" font-weight="bold" fill="#111" text-anchor="start" textLength="13.20" lengthAdjust="spacingAndGlyphs">密封</text>
<text x="826.20" y="85.60" font-family="Liberation Sans, sans-serif" font-size="12.4" font-weight="normal" fill="#262626" text-anchor="start" textLength="20.40" lengthAdjust="spacingAndGlyphs" xml:space="preserve">Seal</text>
<text x="756.80" y="22.00" font-family="Liberation Sans, sans-serif" font-size="19.6" font-weight="normal" fill="#555" text-anchor="start" textLength="8.00" lengthAdjust="spacingAndGlyphs" xml:space="preserve">A</text>
<line x1="768.60" y1="15.50" x2="775.60" y2="15.50" stroke="#555" stroke-width="1.05"/>
<text x="780.30" y="22.00" font-family="Liberation Sans, sans-serif" font-size="19.6" font-weight="normal" fill="#555" text-anchor="start" textLength="8.10" lengthAdjust="spacingAndGlyphs" xml:space="preserve">A</text>
<line x1="733.50" y1="38.40" x2="733.50" y2="49.00" stroke="#111" stroke-width="1.05"/>
<line x1="737.50" y1="38.40" x2="737.50" y2="49.00" stroke="#111" stroke-width="1.05"/>
<line x1="706.10" y1="44.50" x2="733.30" y2="44.50" stroke="#111" stroke-width="1.05"/>
<path d="M733.30 44.20 L723.30 45.90 L723.30 42.50 Z" fill="#111"/>
<line x1="737.30" y1="44.50" x2="752.50" y2="44.50" stroke="#111" stroke-width="1.05"/>
<path d="M737.30 44.20 L747.30 42.50 L747.30 45.90 Z" fill="#111"/>
<text x="706.10" y="41.80" font-family="Liberation Sans, sans-serif" font-size="11.2" font-weight="normal" fill="#262626" text-anchor="start" textLength="11.40" lengthAdjust="spacingAndGlyphs" xml:space="preserve">d4</text>
<line x1="755.00" y1="160.50" x2="770.60" y2="160.50" stroke="#111" stroke-width="1.05"/>
<path d="M770.60 160.70 L760.60 162.40 L760.60 159.00 Z" fill="#111"/>
<line x1="794.70" y1="160.50" x2="812.00" y2="160.50" stroke="#111" stroke-width="1.05"/>
<path d="M794.70 160.70 L804.70 159.00 L804.70 162.40 Z" fill="#111"/>
<text x="780.80" y="158.40" font-family="Liberation Sans, sans-serif" font-size="11.8" font-weight="normal" fill="#262626" text-anchor="start" textLength="5.20" lengthAdjust="spacingAndGlyphs" xml:space="preserve">b</text>
<line x1="777.50" y1="412.90" x2="777.50" y2="432.70" stroke="#111" stroke-width="1.05"/>
<line x1="762.00" y1="427.50" x2="777.50" y2="427.50" stroke="#111" stroke-width="1.05"/>
<path d="M777.50 427.40 L768.00 429.10 L768.00 425.70 Z" fill="#111"/>
<line x1="795.20" y1="427.50" x2="807.90" y2="427.50" stroke="#111" stroke-width="1.05"/>
<path d="M795.20 427.40 L804.70 425.70 L804.70 429.10 Z" fill="#111"/>
<text x="779.00" y="424.80" font-family="Liberation Sans, sans-serif" font-size="11" font-weight="normal" fill="#262626" text-anchor="start" textLength="9.60" lengthAdjust="spacingAndGlyphs" xml:space="preserve">b1</text>
<line x1="733.50" y1="412.90" x2="733.50" y2="476.50" stroke="#111" stroke-width="1.05"/>
<line x1="792.50" y1="412.90" x2="792.50" y2="455.40" stroke="#111" stroke-width="1.05"/>
<line x1="795.50" y1="373.00" x2="795.50" y2="476.50" stroke="#555" stroke-width="1.05"/>
<line x1="733.60" y1="451.50" x2="792.50" y2="451.50" stroke="#111" stroke-width="1.05"/>
<path d="M733.60 451.10 L743.60 449.35 L743.60 452.85 Z" fill="#111"/>
<path d="M792.50 451.10 L782.50 452.85 L782.50 449.35 Z" fill="#111"/>
<line x1="733.60" y1="471.50" x2="795.20" y2="471.50" stroke="#111" stroke-width="1.05"/>
<path d="M733.60 471.20 L743.60 469.45 L743.60 472.95 Z" fill="#111"/>
<path d="M795.20 471.20 L785.20 472.95 L785.20 469.45 Z" fill="#111"/>
<text x="756.70" y="447.90" font-family="Liberation Sans, sans-serif" font-size="11.4" font-weight="normal" fill="#262626" text-anchor="start" textLength="10.50" lengthAdjust="spacingAndGlyphs" xml:space="preserve">H1</text>
<text x="760.90" y="468.20" font-family="Liberation Sans, sans-serif" font-size="12" font-weight="normal" fill="#262626" text-anchor="start" textLength="5.40" lengthAdjust="spacingAndGlyphs" xml:space="preserve">H</text>
</g>
<g id="notes">
<text x="310.30" y="437.00" font-family="'Liberation Serif', 'Noto Serif CJK SC', serif" font-size="13.65" fill="#2a2a2a" text-anchor="start" textLength="27.30" lengthAdjust="spacingAndGlyphs">注意</text>
<text transform="translate(338.20 436.40) scale(0.93 1.03)" x="3.72" y="0" font-family="Liberation Serif, serif" font-size="13.8" fill="#2a2a2a" stroke="#2a2a2a" stroke-width="0.12" text-anchor="middle" xml:space="preserve">:</text>
<text x="346.20" y="437.00" font-family="'Liberation Serif', 'Noto Serif CJK SC', serif" font-size="13.65" fill="#2a2a2a" text-anchor="start" textLength="81.90" lengthAdjust="spacingAndGlyphs">孔位分布图以</text>
<text transform="translate(428.10 436.40) scale(0.76 1.03)" x="4.55 13.66 22.76" y="0" font-family="Liberation Serif, serif" font-size="13.8" fill="#2a2a2a" stroke="#2a2a2a" stroke-width="0.12" text-anchor="middle" xml:space="preserve">SHF</text>
<text transform="translate(448.86 436.40) scale(0.93 1.03)" x="3.72 11.16 18.60" y="0" font-family="Liberation Serif, serif" font-size="13.8" fill="#2a2a2a" stroke="#2a2a2a" stroke-width="0.12" text-anchor="middle" xml:space="preserve">-32</text>
<text x="469.40" y="437.00" font-family="'Liberation Serif', 'Noto Serif CJK SC', serif" font-size="13.65" fill="#2a2a2a" text-anchor="start" textLength="27.30" lengthAdjust="spacingAndGlyphs">为例</text>
<text x="496.70" y="437.00" font-family="'Liberation Serif', 'Noto Serif CJK SC', serif" font-size="13.65" fill="#2a2a2a" text-anchor="start">，</text>
<text x="512.30" y="437.00" font-family="'Liberation Serif', 'Noto Serif CJK SC', serif" font-size="13.65" fill="#2a2a2a" text-anchor="start" textLength="177.45" lengthAdjust="spacingAndGlyphs">需要详细图纸请联系博盈轴承</text>
<text transform="translate(689.60 436.40) scale(0.93 1.03)" x="3.72" y="0" font-family="Liberation Serif, serif" font-size="13.8" fill="#2a2a2a" stroke="#2a2a2a" stroke-width="0.12" text-anchor="middle" xml:space="preserve">;</text>
<text transform="translate(310.30 456.20) scale(0.93 1.03)" x="3.72 11.16 18.60 26.04 33.48 40.92 48.37 55.81 63.25 70.69 78.13 85.57 93.01 100.45 107.89 115.33 122.77 130.22 137.66 145.10 152.54 159.98 167.42 174.86 182.30 189.74 197.18 204.62 212.06 219.51 226.95 234.39 241.83 249.27 256.71 264.15 271.59 279.03 286.47 293.91 301.35 308.80" y="0" font-family="Liberation Serif, serif" font-size="13.8" fill="#2a2a2a" stroke="#2a2a2a" stroke-width="0.12" text-anchor="middle" xml:space="preserve">Notice: Holes locations in the drawing is </text>
<text transform="translate(600.94 456.20) scale(0.76 1.03)" x="4.55 13.66 22.76" y="0" font-family="Liberation Serif, serif" font-size="13.8" fill="#2a2a2a" stroke="#2a2a2a" stroke-width="0.12" text-anchor="middle" xml:space="preserve">SHF</text>
<text transform="translate(621.70 456.20) scale(0.93 1.03)" x="3.72 11.16 18.60 26.04 33.48 40.92 48.37 55.81 63.25" y="0" font-family="Liberation Serif, serif" font-size="13.8" fill="#2a2a2a" stroke="#2a2a2a" stroke-width="0.12" text-anchor="middle" xml:space="preserve">-32, need</text>
<text transform="translate(310.30 475.70) scale(0.93 1.03)" x="3.72 11.16 18.60 26.04 33.48 40.92 48.37 55.81 63.25 70.69 78.13 85.57 93.01 100.45 107.89 115.33 122.77 130.22 137.66 145.10 152.54 159.98 167.42 174.86 182.30 189.74 197.18 204.62 212.06 219.51 226.95" y="0" font-family="Liberation Serif, serif" font-size="13.8" fill="#2a2a2a" stroke="#2a2a2a" stroke-width="0.12" text-anchor="middle" xml:space="preserve">detail drawings please contact </text>
<text transform="translate(524.82 475.70) scale(0.78 1.03)" x="4.44 13.31 22.18" y="0" font-family="Liberation Serif, serif" font-size="13.8" fill="#2a2a2a" stroke="#2a2a2a" stroke-width="0.12" text-anchor="middle" xml:space="preserve">BYC</text>
<text transform="translate(545.58 475.70) scale(0.93 1.03)" x="3.72 11.16 18.60 26.04 33.48 40.92 48.37 55.81 63.25 70.69" y="0" font-family="Liberation Serif, serif" font-size="13.8" fill="#2a2a2a" stroke="#2a2a2a" stroke-width="0.12" text-anchor="middle" xml:space="preserve"> bearings;</text>
</g>
</svg>
</body></html>
